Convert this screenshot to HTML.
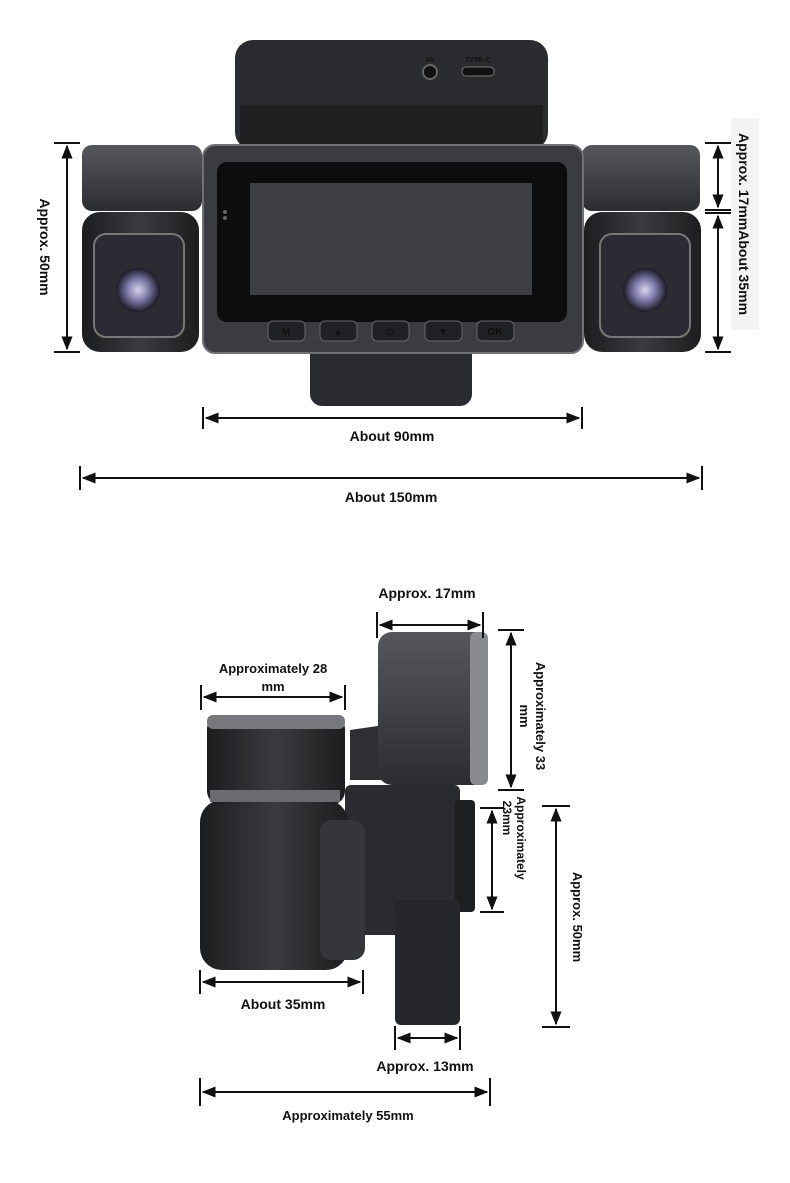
<!DOCTYPE html>
<html><head><meta charset="utf-8">
<style>
html,body{margin:0;padding:0;background:#fff;}
svg{display:block;}
text{font-family:"Liberation Sans",sans-serif;font-weight:bold;fill:#111;}
</style></head>
<body>
<svg width="790" height="1183" viewBox="0 0 790 1183" xmlns="http://www.w3.org/2000/svg">
<defs>
<marker id="a" viewBox="0 0 10 10" refX="9" refY="5" markerWidth="7" markerHeight="7" orient="auto-start-reverse"><path d="M0,1 L10,5 L0,9 z" fill="#111"/></marker>
<linearGradient id="body" x1="0" y1="0" x2="0" y2="1"><stop offset="0" stop-color="#55575b"/><stop offset="1" stop-color="#2c2d30"/></linearGradient>
<linearGradient id="dk" x1="0" y1="0" x2="1" y2="0"><stop offset="0" stop-color="#1c1d1f"/><stop offset="0.5" stop-color="#3a3b3e"/><stop offset="1" stop-color="#1c1d1f"/></linearGradient>
<radialGradient id="lens"><stop offset="0" stop-color="#d8d4ef"/><stop offset="0.5" stop-color="#7c78a8"/><stop offset="1" stop-color="#1b1a24"/></radialGradient>
</defs>

<!-- TOP VIEW -->
<rect x="235" y="40" width="313" height="110" rx="18" fill="#2b2c2f"/>
<rect x="240" y="105" width="303" height="45" fill="#1e1f21"/>
<circle cx="430" cy="72" r="7" fill="#111" stroke="#666" stroke-width="2"/>
<text x="430" y="62" font-size="7" text-anchor="middle" fill="#aaa" font-weight="normal">AV</text>
<rect x="462" y="67" width="32" height="9" rx="4" fill="#111" stroke="#777"/>
<text x="478" y="62" font-size="7" text-anchor="middle" fill="#aaa" font-weight="normal">TYPE-C</text>
<rect x="310" y="340" width="162" height="66" rx="12" fill="#2a2b2e"/>
<!-- left cam -->
<rect x="82" y="145" width="120" height="66" rx="10" fill="url(#body)"/>
<rect x="82" y="212" width="117" height="140" rx="18" fill="url(#dk)"/>
<rect x="94" y="234" width="90" height="103" rx="12" fill="#2a2b33" stroke="#777" stroke-width="2"/>
<circle cx="138" cy="290" r="22" fill="url(#lens)"/>
<!-- right cam -->
<rect x="582" y="145" width="118" height="66" rx="10" fill="url(#body)"/>
<rect x="584" y="212" width="117" height="140" rx="18" fill="url(#dk)"/>
<rect x="600" y="234" width="90" height="103" rx="12" fill="#2a2b33" stroke="#777" stroke-width="2"/>
<circle cx="645" cy="290" r="22" fill="url(#lens)"/>
<!-- main body -->
<rect x="203" y="145" width="380" height="208" rx="12" fill="#3b3c40" stroke="#707175" stroke-width="2"/>
<rect x="217" y="162" width="350" height="160" rx="10" fill="#0d0d0f"/>
<rect x="250" y="183" width="282" height="112" fill="#3d3e42"/>
<circle cx="225" cy="212" r="2" fill="#666"/><circle cx="225" cy="218" r="2" fill="#666"/>
<g font-size="10" text-anchor="middle">
<rect x="268" y="321" width="37" height="20" rx="5" fill="#202124" stroke="#666"/><text x="286" y="335" fill="#888">M</text>
<rect x="320" y="321" width="37" height="20" rx="5" fill="#202124" stroke="#666"/><text x="338" y="335" fill="#888">▲</text>
<rect x="372" y="321" width="37" height="20" rx="5" fill="#202124" stroke="#666"/><text x="390" y="335" fill="#888">⏻</text>
<rect x="425" y="321" width="37" height="20" rx="5" fill="#202124" stroke="#666"/><text x="443" y="335" fill="#888">▼</text>
<rect x="477" y="321" width="37" height="20" rx="5" fill="#202124" stroke="#666"/><text x="495" y="335" fill="#888">OK</text>
</g>

<g stroke="#111" stroke-width="2" fill="none">
<line x1="54" y1="143" x2="80" y2="143"/><line x1="54" y1="352" x2="80" y2="352"/>
<line x1="67" y1="146" x2="67" y2="349" marker-start="url(#a)" marker-end="url(#a)"/>
<line x1="705" y1="143" x2="731" y2="143"/><line x1="705" y1="210" x2="731" y2="210"/><line x1="705" y1="213" x2="731" y2="213"/><line x1="705" y1="352" x2="731" y2="352"/>
<line x1="718" y1="146" x2="718" y2="207" marker-start="url(#a)" marker-end="url(#a)"/>
<line x1="718" y1="216" x2="718" y2="349" marker-start="url(#a)" marker-end="url(#a)"/>
<line x1="203" y1="407" x2="203" y2="429"/><line x1="582" y1="407" x2="582" y2="429"/>
<line x1="206" y1="418" x2="579" y2="418" marker-start="url(#a)" marker-end="url(#a)"/>
<line x1="80" y1="466" x2="80" y2="490"/><line x1="702" y1="466" x2="702" y2="490"/>
<line x1="83" y1="478" x2="699" y2="478" marker-start="url(#a)" marker-end="url(#a)"/>
</g>
<text font-size="14" transform="translate(40,247) rotate(90)" text-anchor="middle">Approx. 50mm</text>
<rect x="731" y="118" width="28" height="212" fill="#f4f4f4"/>
<text font-size="14" transform="translate(739,224) rotate(90)" text-anchor="middle">Approx. 17mmAbout 35mm</text>
<text x="392" y="441" font-size="14" text-anchor="middle">About 90mm</text>
<text x="391" y="502" font-size="14" text-anchor="middle">About 150mm</text>

<!-- SIDE VIEW -->
<rect x="345" y="785" width="115" height="150" rx="6" fill="#2a2b2e"/>
<rect x="455" y="800" width="20" height="112" rx="4" fill="#1d1e20"/>
<rect x="395" y="900" width="65" height="125" rx="6" fill="#26272a"/>
<path d="M350,730 L385,725 L385,780 L350,780 z" fill="#2e2f32"/>
<rect x="378" y="632" width="110" height="153" rx="14" fill="url(#body)"/>
<rect x="470" y="632" width="18" height="153" rx="6" fill="#8a8b8f"/>
<rect x="200" y="800" width="148" height="170" rx="22" fill="url(#dk)"/>
<rect x="207" y="715" width="138" height="90" rx="14" fill="url(#dk)"/>
<rect x="207" y="715" width="138" height="14" rx="6" fill="#77787c"/>
<rect x="210" y="790" width="130" height="12" fill="#6a6b6f"/>
<rect x="320" y="820" width="45" height="140" rx="12" fill="#35363a"/>

<g stroke="#111" stroke-width="2" fill="none">
<line x1="377" y1="612" x2="377" y2="638"/><line x1="483" y1="612" x2="483" y2="638"/>
<line x1="380" y1="625" x2="480" y2="625" marker-start="url(#a)" marker-end="url(#a)"/>
<line x1="201" y1="685" x2="201" y2="710"/><line x1="345" y1="685" x2="345" y2="710"/>
<line x1="204" y1="697" x2="342" y2="697" marker-start="url(#a)" marker-end="url(#a)"/>
<line x1="498" y1="630" x2="524" y2="630"/><line x1="498" y1="790" x2="524" y2="790"/>
<line x1="511" y1="633" x2="511" y2="787" marker-start="url(#a)" marker-end="url(#a)"/>
<line x1="480" y1="808" x2="504" y2="808"/><line x1="480" y1="912" x2="504" y2="912"/>
<line x1="492" y1="811" x2="492" y2="909" marker-start="url(#a)" marker-end="url(#a)"/>
<line x1="542" y1="806" x2="570" y2="806"/><line x1="542" y1="1027" x2="570" y2="1027"/>
<line x1="556" y1="809" x2="556" y2="1024" marker-start="url(#a)" marker-end="url(#a)"/>
<line x1="200" y1="970" x2="200" y2="994"/><line x1="363" y1="970" x2="363" y2="994"/>
<line x1="203" y1="982" x2="360" y2="982" marker-start="url(#a)" marker-end="url(#a)"/>
<line x1="395" y1="1026" x2="395" y2="1050"/><line x1="460" y1="1026" x2="460" y2="1050"/>
<line x1="398" y1="1038" x2="457" y2="1038" marker-start="url(#a)" marker-end="url(#a)"/>
<line x1="200" y1="1078" x2="200" y2="1106"/><line x1="490" y1="1078" x2="490" y2="1106"/>
<line x1="203" y1="1092" x2="487" y2="1092" marker-start="url(#a)" marker-end="url(#a)"/>
</g>
<text x="427" y="598" font-size="14" text-anchor="middle">Approx. 17mm</text>
<text x="273" y="673" font-size="13" text-anchor="middle">Approximately 28</text>
<text x="273" y="691" font-size="13" text-anchor="middle">mm</text>
<text font-size="13" transform="translate(536,716) rotate(90)" text-anchor="middle">Approximately 33</text>
<text font-size="13" transform="translate(520,716) rotate(90)" text-anchor="middle">mm</text>
<text font-size="12" transform="translate(517,838) rotate(90)" text-anchor="middle">Approximately</text>
<text font-size="12" transform="translate(503,818) rotate(90)" text-anchor="middle">23mm</text>
<text font-size="13" transform="translate(573,917) rotate(90)" text-anchor="middle">Approx. 50mm</text>
<text x="283" y="1009" font-size="14" text-anchor="middle">About 35mm</text>
<text x="425" y="1071" font-size="14" text-anchor="middle">Approx. 13mm</text>
<text x="348" y="1120" font-size="13" text-anchor="middle">Approximately 55mm</text>
</svg>
</body></html>
